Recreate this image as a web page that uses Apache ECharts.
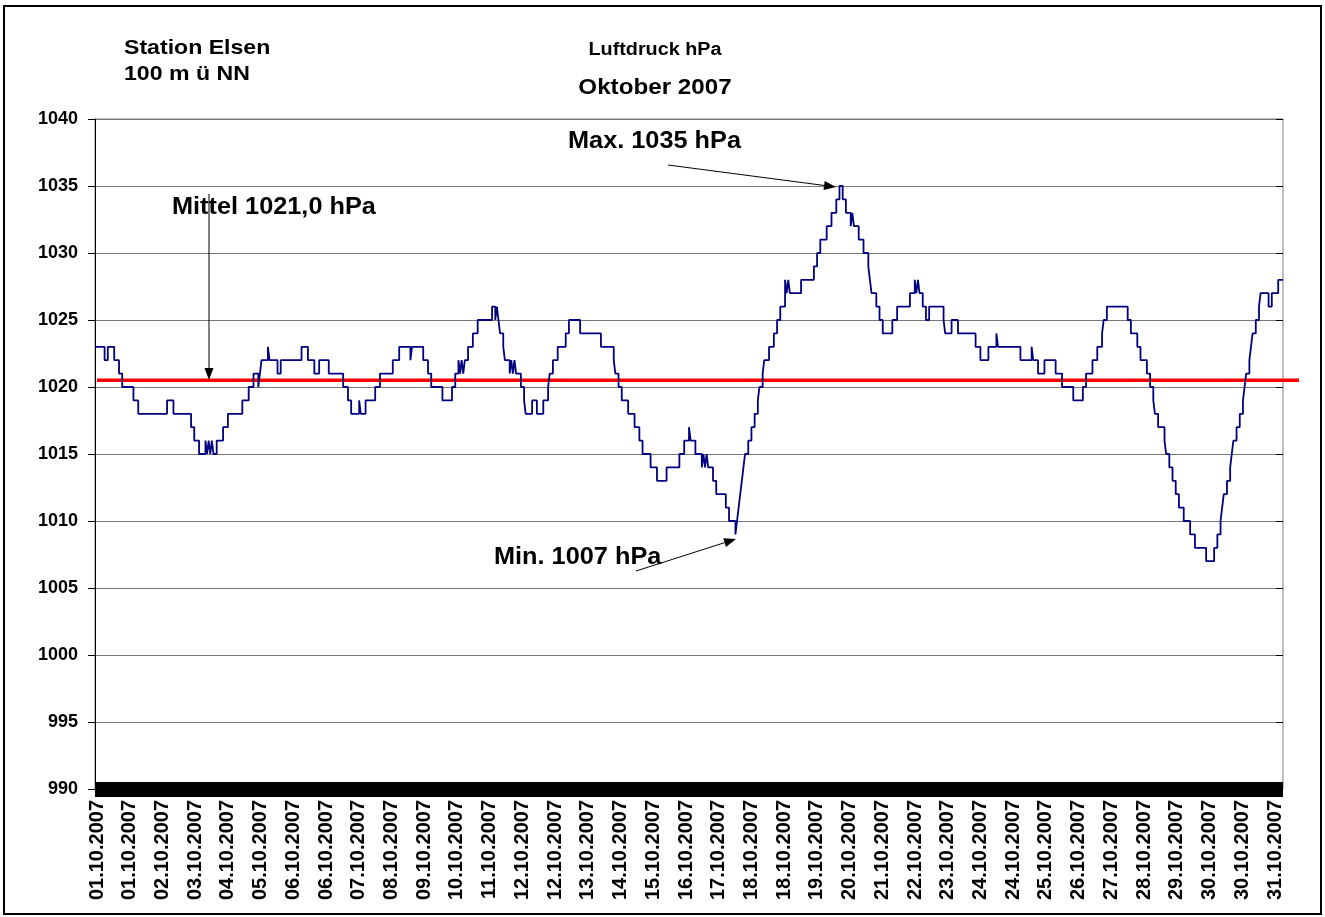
<!DOCTYPE html>
<html><head><meta charset="utf-8">
<script src="https://cdn.jsdelivr.net/npm/echarts@6/dist/echarts.min.js"></script>
<style>html,body{margin:0;padding:0;background:#fff}#c{width:1325px;height:917px}</style>
</head><body><div id="c"></div>
<script>
// time of each reading change (hour of the month) and the pressure in hPa from then on
const hours = [2,8,10,14,17,19,26,29,47,51,62,64,67,71,72,73,74,75,76,78,82,85,94,98,101,104,105,106,110,111,116,118,131,135,139,142,148,157,160,162,167,168,171,177,180,188,192,199,200,207,210,212,219,225,227,229,230,231,232,233,235,238,241,250,252,253,254,255,257,258,261,262,263,264,265,268,270,271,275,278,282,285,286,288,291,296,298,305,318,326,327,329,331,335,339,342,344,349,353,359,367,370,373,374,377,381,382,383,384,385,388,390,396,398,402,403,404,405,406,407,408,410,412,414,416,417,419,420,423,426,428,430,433,434,435,436,443,451,453,455,459,462,465,467,469,471,474,475,476,479,482,485,486,487,490,492,494,500,503,511,514,515,516,517,519,521,523,532,533,537,541,552,555,560,565,566,580,587,588,591,595,602,606,613,619,621,625,628,631,632,634,647,649,653,655,659,661,663,664,666,670,671,673,675,677,679,682,686,689,696,701,703,705,706,707,709,711,712,713,715,717,719,720,721,723,724,725,727,729,730,735,737,741,744];
const hPa = [1023,1022,1023,1022,1021,1020,1019,1018,1019,1018,1017,1016,1015,1016,1015,1016,1015,1016,1015,1016,1017,1018,1019,1020,1021,1020,1021,1022,1023,1022,1021,1022,1023,1022,1021,1022,1021,1020,1019,1018,1019,1018,1019,1020,1021,1022,1023,1022,1023,1022,1021,1020,1019,1020,1021,1022,1021,1022,1021,1022,1023,1024,1025,1026,1025,1026,1025,1024,1023,1022,1021,1022,1021,1022,1021,1020,1019,1018,1019,1018,1019,1020,1021,1022,1023,1024,1025,1024,1023,1022,1021,1020,1019,1018,1017,1016,1015,1014,1013,1014,1015,1016,1017,1016,1015,1014,1015,1014,1015,1014,1013,1012,1011,1010,1009,1010,1011,1012,1013,1014,1015,1016,1017,1018,1019,1020,1021,1022,1023,1024,1025,1026,1028,1027,1028,1027,1028,1029,1030,1031,1032,1033,1034,1035,1034,1033,1032,1033,1032,1031,1030,1029,1028,1027,1026,1025,1024,1025,1026,1027,1028,1027,1028,1027,1026,1025,1026,1025,1024,1025,1024,1023,1022,1023,1024,1023,1022,1023,1022,1021,1022,1021,1020,1019,1020,1021,1022,1023,1024,1025,1026,1025,1024,1023,1022,1021,1020,1019,1018,1017,1016,1015,1014,1013,1012,1011,1010,1009,1008,1007,1008,1009,1010,1011,1012,1013,1014,1015,1016,1017,1018,1019,1020,1021,1022,1023,1024,1025,1026,1027,1026,1027,1028,1028];
const meanValue = 1020.5;
const tickLabels = ['01.10.2007','01.10.2007','02.10.2007','03.10.2007','04.10.2007','05.10.2007','06.10.2007','06.10.2007','07.10.2007','08.10.2007','09.10.2007','10.10.2007','11.10.2007','12.10.2007','12.10.2007','13.10.2007','14.10.2007','15.10.2007','16.10.2007','17.10.2007','18.10.2007','18.10.2007','19.10.2007','20.10.2007','21.10.2007','22.10.2007','23.10.2007','24.10.2007','24.10.2007','25.10.2007','26.10.2007','27.10.2007','28.10.2007','29.10.2007','30.10.2007','30.10.2007','31.10.2007'];
const yTicks = [990, 995, 1000, 1005, 1010, 1015, 1020, 1025, 1030, 1035, 1040];

const FONT = '"Liberation Sans", Arial, sans-serif';
const series = hours.map((h, i) => [h, hPa[i]]);
const yMin = yTicks[0], yMax = yTicks[yTicks.length - 1], yStep = yTicks[1] - yTicks[0];

const chart = echarts.init(document.getElementById('c'), null, {renderer: 'canvas'});

function txt(x, y, s, size, align) {
  return {type: 'text', x: x, y: y, scaleX: 1.1, z: 10,
    style: {text: s, x: 0, y: 0, font: 'bold ' + size + 'px ' + FONT, fill: '#000',
      textAlign: align || 'left', textVerticalAlign: 'middle'}};
}
function arrow(x1, y1, x2, y2) {
  const dx = x2 - x1, dy = y2 - y1, L = Math.hypot(dx, dy);
  const ux = dx / L, uy = dy / L, hl = 12, hw = 4.5;
  const bx = x2 - ux * hl, by = y2 - uy * hl;
  return [
    {type: 'line', z: 10, shape: {x1: x1, y1: y1, x2: bx, y2: by}, style: {stroke: '#000', lineWidth: 1}},
    {type: 'polygon', z: 10, shape: {points: [[x2, y2], [bx - uy * hw, by + ux * hw], [bx + uy * hw, by - ux * hw]]}, style: {fill: '#000'}}
  ];
}

const option = {
  animation: false,
  backgroundColor: '#fff',
  grid: [
    {left: 95, right: 42, top: 119, bottom: 128, show: true, borderColor: '#808080', borderWidth: 1},
    {left: 97, right: 50, top: 119, bottom: 128},
    {left: 97, right: 26, top: 119, bottom: 128}
  ],
  xAxis: [
    {gridIndex: 0, type: 'value', min: 2, max: 744,
      axisLine: {show: true, onZero: false, lineStyle: {color: '#000', width: 15, cap: 'butt'}},
      axisTick: {show: false}, axisLabel: {show: false}, splitLine: {show: false}},
    {gridIndex: 1, type: 'value', min: 0, max: tickLabels.length - 1, interval: 1,
      axisLine: {show: false}, axisTick: {show: false}, splitLine: {show: false},
      axisLabel: {show: true, rotate: 90, margin: 11, color: '#000', fontWeight: 'bold', fontSize: 20, fontFamily: FONT,
        formatter: v => tickLabels[Math.round(v)] || ''}},
    {gridIndex: 2, type: 'value', min: 0, max: 1, show: false}
  ],
  yAxis: [
    {gridIndex: 0, type: 'value', min: yMin, max: yMax, interval: yStep,
      axisLine: {show: true, lineStyle: {color: '#000', width: 1}},
      axisTick: {show: true, length: 7, lineStyle: {color: '#000', width: 1}},
      axisLabel: {color: '#000', fontWeight: 'bold', fontSize: 18, fontFamily: FONT, margin: 17,
        formatter: v => String(v)},
      splitLine: {show: true, lineStyle: {color: '#777', width: 1}}},
    {gridIndex: 0, type: 'value', min: yMin, max: yMax, interval: yStep,
      axisLine: {show: false}, axisLabel: {show: false}, splitLine: {show: false},
      axisTick: {show: true, inside: true, length: 7, lineStyle: {color: '#000', width: 1}}},
    {gridIndex: 1, type: 'value', min: yMin, max: yMax, show: false},
    {gridIndex: 2, type: 'value', min: yMin, max: yMax, show: false}
  ],
  series: [
    {type: 'line', xAxisIndex: 2, yAxisIndex: 3, data: [[0, meanValue], [1, meanValue]],
      symbol: 'none', lineStyle: {color: '#ff0000', width: 3.5}, z: 3, silent: true},
    {type: 'line', xAxisIndex: 0, yAxisIndex: 0, data: series, step: 'end',
      symbol: 'none', lineStyle: {color: '#000080', width: 1.8}, z: 4, silent: true}
  ],
  graphic: [
    {type: 'rect', shape: {x: 4, y: 6, width: 1317, height: 908}, style: {fill: null, stroke: '#000', lineWidth: 2}, z: 0, silent: true},
    txt(124, 48, 'Station Elsen', 21),
    txt(124, 74, '100 m ü NN', 21),
    txt(655, 50, 'Luftdruck hPa', 18, 'center'),
    txt(655, 88, 'Oktober 2007', 22, 'center'),
    txt(568, 142, 'Max. 1035 hPa', 23),
    txt(172, 208, 'Mittel 1021,0 hPa', 23),
    txt(494, 558, 'Min. 1007 hPa', 23)
  ].concat(arrow(668, 165, 836, 187), arrow(209, 194, 209, 380), arrow(636, 571, 736, 539))
};
chart.setOption(option);
</script>
</body></html>
